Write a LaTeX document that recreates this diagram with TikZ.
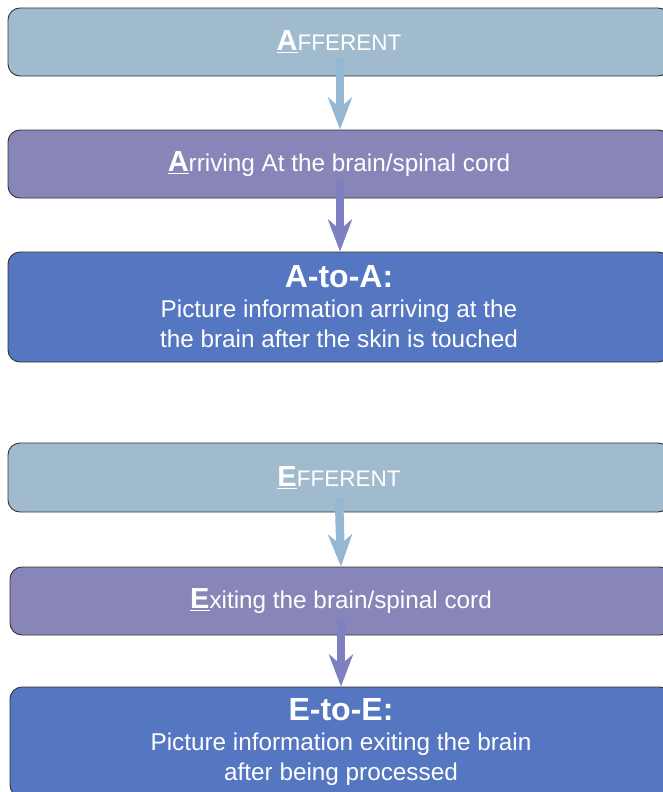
\documentclass[tikz,border=0pt]{standalone}
\usepackage{fontspec}
\setmainfont{Liberation Sans}
\usepackage{tikz}
\usetikzlibrary{arrows.meta}

\definecolor{paleblue}{HTML}{A1BBCE}
\definecolor{lilac}{HTML}{8886B8}
\definecolor{deepblue}{HTML}{5576C0}
\definecolor{palearrow}{HTML}{94B7D4}
\definecolor{lilacarrow}{HTML}{7E80C1}

\tikzset{
	box/.style={rectangle, rounded corners=12pt, draw=black!80, line width=0.9pt,
		minimum width=662pt, text=white, align=center,
		font=\fontsize{24.3}{30}\selectfont},
	flow/.style={line width=8.5pt, -{Stealth[length=32pt,width=24pt,inset=10pt]}}
}
\newcommand{\capletter}[1]{{\fontsize{29}{30}\selectfont\bfseries\underline{#1}}}

\begin{document}
\begin{tikzpicture}[x=1pt, y=-1pt]
	\useasboundingbox (0,0) rectangle (663,792);
	\clip (0,0) rectangle (663,792);
	\node (afferent) at (339, 42) [box, fill=paleblue, minimum height=68pt] {\capletter{A}{\fontsize{22.5}{30}\selectfont FFERENT}};
	\node (arriving) at (339, 164) [box, fill=lilac, minimum height=68pt] {\capletter{A}rriving At the brain/spinal cord};
	\node (atoa) at (339, 307) [box, fill=deepblue, minimum height=110pt] {{\fontsize{32}{30}\selectfont\bfseries A-to-A:}\\Picture information arriving at the\\the brain after the skin is touched};
		\node (efferent) at (339, 477.5) [box, fill=paleblue, minimum height=69pt] {\capletter{E}{\fontsize{22.5}{30}\selectfont FFERENT}};
		\node (exiting) at (341, 601) [box, fill=lilac, minimum height=68pt] {\capletter{E}xiting the brain/spinal cord};
		\node (etoe) at (341, 742) [box, fill=deepblue, minimum height=110pt] {{\fontsize{32}{30}\selectfont\bfseries E-to-E:}\\Picture information exiting the brain\\after being processed};
	\draw[flow, palearrow] ([yshift=18pt, xshift=1pt]afferent.south) -- ([xshift=1pt]arriving.north);
	\draw[flow, lilacarrow] ([yshift=18pt, xshift=1pt]arriving.south) -- ([xshift=1pt]atoa.north);
	\draw[flow, palearrow] ([yshift=14pt]efferent.south) -- (exiting.north);
	\draw[flow, lilacarrow] ([yshift=16pt]exiting.south) -- (etoe.north);
\end{tikzpicture}
\end{document}
